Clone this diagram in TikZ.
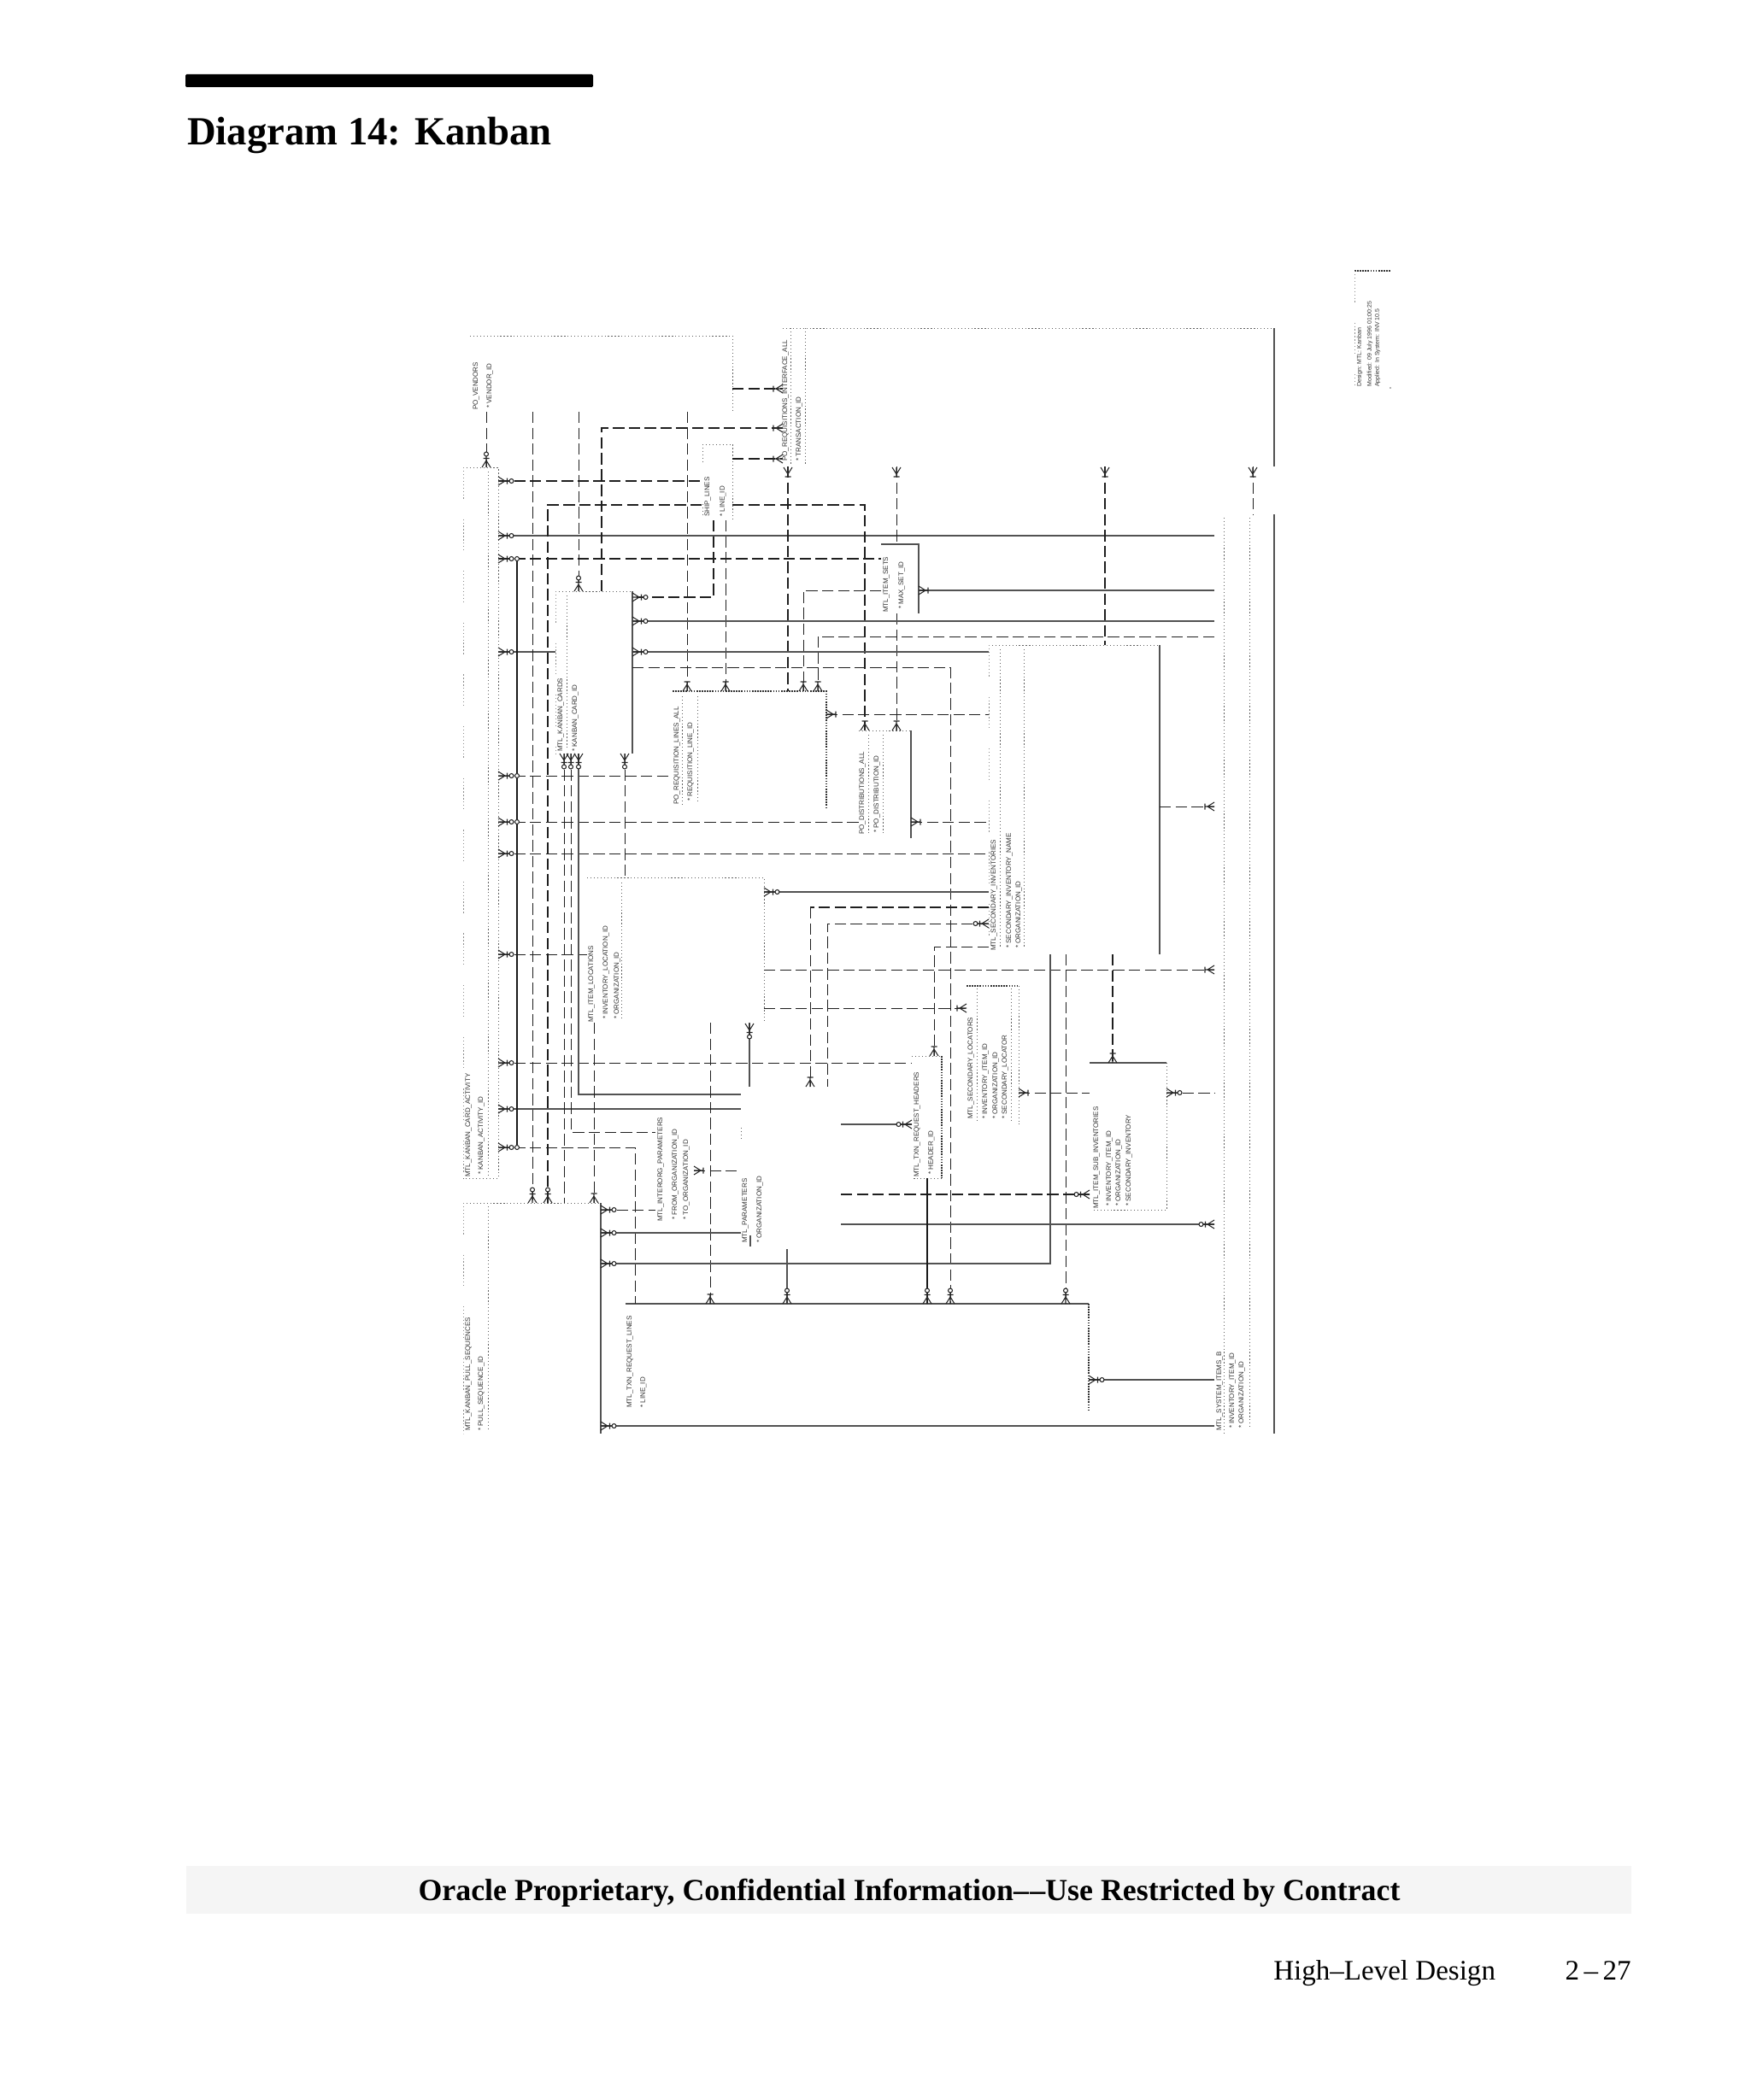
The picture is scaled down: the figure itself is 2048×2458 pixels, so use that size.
\documentclass[tikz,border=0pt]{standalone}
\usepackage{fontspec}
\setmainfont{Liberation Serif}
\newfontfamily\erdfont{Liberation Sans}
\usetikzlibrary{fit}

\newcommand{\mkentity}[5]{\node[inner sep=0,outer sep=0,fit={(#2,#3) (#4,#5)}] (#1) {};}

\tikzset{
  solidln/.style={line width=.8pt, black!68},
  thickln/.style={line width=1.45pt, black!90},
  dashln/.style={line width=.72pt, black!88, dash pattern=on 9.5pt off 3.7pt},
  thickdash/.style={line width=1.3pt, black!88, dash pattern=on 9.5pt off 3.7pt},
  dotln/.style={line width=.7pt, black!62, dash pattern=on .9pt off 1.9pt},
  heavydot/.style={line width=1pt, black!80, dash pattern=on 1.2pt off 1pt},
  sparseln/.style={line width=.7pt, black!45, dash pattern=on .9pt off 1.9pt on .9pt off 1.9pt on .9pt off 1.9pt on .9pt off 1.9pt on .9pt off 1.9pt on .9pt off 1.9pt on .9pt off 1.9pt on .9pt off 1.9pt on .9pt off 1.9pt on .9pt off 17pt},
  markln/.style={line width=.75pt, black!85},
  lbl/.style={rotate=90, anchor=west, inner sep=0, black!80, font=\erdfont\fontsize{5.7}{6}\selectfont},
  crowbar/.pic={\draw[markln] (0,-5) -- (8,0) (0,5) -- (8,0) (0,0) -- (11,0) (11,-3.5) -- (11,3.5);},
  crowo/.pic={\draw[markln] (0,-5) -- (8,0) (0,5) -- (8,0) (0,0) -- (13,0) (10.5,-3.5) -- (10.5,3.5);
              \draw[markln,fill=white] (15.5,0) circle (2.5);}
}

\begin{document}
\begin{tikzpicture}[x=.025cm,y=-.025cm]
  \useasboundingbox (0,0) rectangle (2048,2458);

  % Cabecera
  \fill[black,rounded corners=1pt] (217,87) rectangle (694,102);
  \node[anchor=base west,inner sep=0,font=\fontsize{33.2}{35}\selectfont\bfseries] (title) at (219,170) {Diagram 14: Kanban};

  % Pie
  \fill[black!4] (218,2184) rectangle (1909,2240);
  \node[anchor=base,inner sep=0,font=\fontsize{25.5}{27}\selectfont\bfseries] (banner) at (1064,2224) {Oracle Proprietary, Confidential Information–\kern1pt–Use Restricted by Contract};
  \node[anchor=base west,inner sep=0,font=\fontsize{23.5}{26}\selectfont] (section) at (1490,2317) {High–Level Design};
  \node[anchor=base east,inner sep=0,font=\fontsize{23.5}{26}\selectfont] (pageno) at (1909,2317) {2\,–\,27};

  % Entidades
  \mkentity{vendor}{550}{393}{857}{482}
  \mkentity{reqif}{916}{384}{1491}{546}
  \mkentity{ship}{822}{520}{857}{609}
  \mkentity{activity}{542}{547}{583}{1379}
  \mkentity{cards}{650}{692}{740}{882}
  \mkentity{reqline}{787}{809}{967}{945}
  \mkentity{dist}{1005}{855}{1066}{981}
  \mkentity{catset}{1031}{637}{1075}{718}
  \mkentity{locs}{687}{1027}{894}{1197}
  \mkentity{secinv}{1157}{755}{1357}{1117}
  \mkentity{secloc}{1131}{1154}{1192}{1316}
  \mkentity{itemsub}{1275}{1244}{1365}{1416}
  \mkentity{interorg}{767}{1313}{812}{1430}
  \mkentity{params}{867}{1272}{984}{1462}
  \mkentity{txnhdr}{1067}{1236}{1102}{1379}
  \mkentity{txnline}{732}{1526}{1274}{1651}
  \mkentity{pullseq}{542}{1408}{703}{1678}
  \mkentity{items}{1421}{602}{1491}{1678}
  \coordinate (busT) at (605,654);
  \coordinate (busB) at (605,1343);

  % Bordes
  \draw[dotln] (vendor.north west) -- (vendor.north east) -- (vendor.south east);
  \draw[dotln] (reqif.north west) -- (reqif.north east);
  \draw[solidln] (reqif.north east) -- (reqif.south east);
  \draw[dotln] (925,384) -- (925,543) (942,384) -- (942,543);
  \draw[dotln] (ship.north west) -- (ship.north east) -- (ship.south east);
  \draw[dotln] (822,520) -- (822,543) (822,590) -- (822,605);
  \draw[dotln] (activity.north west) -- (activity.north east) -- (activity.south east) -- (activity.south west);
  \draw[sparseln] (activity.north west) -- (activity.south west);
  \draw[dotln] (571,552) -- (571,1375);
  \draw[dotln] (cards.north west) -- (cards.north east);
  \draw[solidln] (cards.north east) -- (cards.south east);
  \draw[sparseln] (cards.north west) -- (cards.south west);
  \draw[dotln] (663,697) -- (663,877);
  \draw[heavydot] (reqline.north west) -- (reqline.north east) -- (reqline.south east);
  \draw[dotln] (798,815) -- (798,942) (816,815) -- (816,938);
  \draw[dotln] (dist.north west) -- (dist.north east);
  \draw[solidln] (dist.north east) -- (dist.south east);
  \draw[dotln] (1016,860) -- (1016,975) (1033,860) -- (1033,975);
  \draw[solidln] (catset.north west) -- (catset.north east) -- (catset.south east);
  \draw[dotln] (locs.north west) -- (locs.north east) -- (locs.south east);
  \draw[dotln] (727,1033) -- (727,1193);
  \draw[dotln] (secinv.north west) -- (secinv.north east);
  \draw[solidln] (secinv.north east) -- (secinv.south east);
  \draw[sparseln] (secinv.north west) -- (secinv.south west);
  \draw[dotln] (1170,760) -- (1170,1110) (1198,760) -- (1198,1110);
  \draw[heavydot] (secloc.north west) -- (secloc.north east);
  \draw[dotln] (secloc.north east) -- (secloc.south east);
  \draw[dotln] (1143,1157) -- (1143,1311) (1183,1157) -- (1183,1311);
  \draw[solidln] (itemsub.north west) -- (itemsub.north east);
  \draw[dotln] (itemsub.north east) -- (itemsub.south east) -- (1278,1416);
  \draw[dotln] (txnhdr.north west) -- (txnhdr.north east);
  \draw[heavydot] (txnhdr.north east) -- (txnhdr.south east);
  \draw[dotln] (txnhdr.south east) -- (txnhdr.south west);
  \draw[solidln] (txnline.north west) -- (txnline.north east);
  \draw[heavydot] (txnline.north east) -- (txnline.south east);
  \draw[dotln] (pullseq.north west) -- (pullseq.north east);
  \draw[solidln] (pullseq.north east) -- (pullseq.south east);
  \draw[sparseln] (pullseq.north west) -- (pullseq.south west);
  \draw[dotln] (571,1412) -- (571,1673);
  \draw[solidln] (items.north east) -- (items.south east);
  \draw[dotln] (1432,606) -- (1432,1678) (1462,606) -- (1462,1673);
  \draw[dotln] (867,1320) -- (867,1333);
  \draw[solidln] (878,1446) -- (878,1459);

  % Bloque de titulo
  \draw[heavydot] (1585,317) -- (1627,317);
  \draw[sparseln] (1585,317) -- (1585,452);
  \fill[black!60] (1627,454) circle (.8);

  % Conectores desde la actividad
  \draw[dashln] (activity.east |- 0,563) -- (ship.west |- 0,563);
  \draw[solidln] (activity.east |- 0,627) -- (items.west |- 0,627);
  \draw[dashln] (activity.east |- 0,654) -- (catset.west |- 0,654);
  \draw[solidln] (activity.east |- 0,763) -- (cards.west |- 0,763);
  \draw[dashln] (activity.east |- 0,908) -- (reqline.west |- 0,908);
  \draw[dashln] (activity.east |- 0,962) -- (dist.west |- 0,962);
  \draw[dashln] (activity.east |- 0,999) -- (secinv.west |- 0,999);
  \draw[dashln] (activity.east |- 0,1117) -- (locs.west |- 0,1117);
  \draw[dashln] (activity.east |- 0,1244) -- (txnhdr.west |- 0,1244);
  \draw[solidln] (activity.east |- 0,1298) -- (params.west |- 0,1298);
  \draw[dashln] (activity.east |- 0,1343) -- (743,1343) -- (txnline.north -| 743,0);
  \draw[thickln] (busT) -- (busB);

  % Verticales superiores
  \draw[dashln] (vendor.south -| 569,0) -- (activity.north -| 569,0);
  \draw[dashln] (vendor.south -| 623,0) -- (pullseq.north -| 623,0);
  \draw[dashln] (vendor.south -| 677,0) -- (cards.north -| 677,0);
  \draw[dashln] (vendor.south -| 804,0) -- (reqline.north -| 804,0);
  \draw[dashln] (vendor.east |- 0,455) -- (reqif.west |- 0,455);
  \draw[dashln] (ship.east |- 0,537) -- (reqif.west |- 0,537);
  \draw[dashln] (ship.south -| 849,0) -- (reqline.north -| 849,0);
  \draw[thickdash] (ship.south -| 835,0) -- (835,699) -- (cards.east |- 0,699);
  \draw[thickdash] (cards.north -| 704,0) -- (704,501) -- (reqif.west |- 0,501);
  \draw[thickdash] (pullseq.north -| 641,0) -- (641,591) -- (ship.west |- 0,591);
  \draw[thickdash] (ship.east |- 0,591) -- (1012,591) -- (dist.north -| 1012,0);
  \draw[thickdash] (reqif.south -| 922,0) -- (reqline.north -| 922,0);
  \draw[dashln] (reqif.south -| 1049,0) -- (catset.north -| 1049,0);
  \draw[dashln] (catset.south -| 1049,0) -- (dist.north -| 1049,0);
  \draw[thickdash] (reqif.south -| 1293,0) -- (secinv.north -| 1293,0);
  \draw[dashln] (reqif.south -| 1466,0) -- (items.north -| 1466,0);

  % Tarjetas
  \draw[solidln] (cards.east |- 0,727) -- (items.west |- 0,727);
  \draw[solidln] (cards.east |- 0,763) -- (secinv.west |- 0,763);
  \draw[dashln] (cards.east |- 0,781) -- (1112,781) -- (txnline.north -| 1112,0);
  \draw[dashln] (cards.south -| 660,0) -- (pullseq.north -| 660,0);
  \draw[dashln] (cards.south -| 668,0) -- (668,1325) -- (interorg.west |- 0,1325);
  \draw[solidln] (cards.south -| 677,0) -- (677,1281) -- (params.west |- 0,1281);
  \draw[dashln] (cards.south -| 731,0) -- (locs.north -| 731,0);

  % Requisiciones y distribuciones
  \draw[dashln] (catset.west |- 0,691) -- (940,691) -- (reqline.north -| 940,0);
  \draw[dashln] (items.west |- 0,745) -- (957,745) -- (reqline.north -| 957,0);
  \draw[solidln] (catset.east |- 0,691) -- (items.west |- 0,691);
  \draw[dashln] (reqline.east |- 0,836) -- (secinv.west |- 0,836);
  \draw[dashln] (dist.east |- 0,962) -- (secinv.west |- 0,962);

  % Ubicaciones
  \draw[solidln] (locs.east |- 0,1044) -- (secinv.west |- 0,1044);
  \draw[dashln] (locs.east |- 0,1135) -- (items.west |- 0,1135);
  \draw[dashln] (locs.east |- 0,1180) -- (secloc.west |- 0,1180);
  \draw[dashln] (locs.south -| 695,0) -- (pullseq.north -| 695,0);
  \draw[dashln] (locs.south -| 831,0) -- (txnline.north -| 831,0);
  \draw[solidln] (locs.south -| 877,0) -- (params.north -| 877,0);

  % Subinventarios
  \draw[dashln] (secinv.west |- 0,1108) -- (1093,1108) -- (txnhdr.north -| 1093,0);
  \draw[thickdash] (secinv.west |- 0,1062) -- (948,1062);
  \draw[dashln] (948,1062) -- (params.north -| 948,0);
  \draw[dashln] (secinv.west |- 0,1081) -- (968,1081) -- (params.north -| 968,0);
  \draw[dashln] (secinv.east |- 0,944) -- (items.west |- 0,944);
  \draw[thickdash] (secinv.south -| 1302,0) -- (itemsub.north -| 1302,0);
  \draw[solidln] (secinv.south -| 1229,0) -- (1229,1479) -- (pullseq.east |- 0,1479);
  \draw[dashln] (secinv.south -| 1247,0) -- (txnline.north -| 1247,0);
  \draw[dashln] (secloc.east |- 0,1279) -- (itemsub.west |- 0,1279);
  \draw[dashln] (itemsub.east |- 0,1279) -- (items.west |- 0,1279);

  % Parametros y pedidos
  \draw[solidln] (params.east |- 0,1316) -- (txnhdr.west |- 0,1316);
  \draw[thickdash] (params.east |- 0,1398) -- (itemsub.west |- 0,1398);
  \draw[solidln] (params.east |- 0,1433) -- (items.west |- 0,1433);
  \draw[solidln] (params.south -| 921,0) -- (txnline.north -| 921,0);
  \draw[dashln] (interorg.east |- 0,1370) -- (params.west |- 0,1370);
  \draw[dashln] (pullseq.east |- 0,1416) -- (interorg.west |- 0,1416);
  \draw[solidln] (pullseq.east |- 0,1443) -- (params.west |- 0,1443);
  \draw[solidln] (pullseq.east |- 0,1669) -- (items.west |- 0,1669);
  \draw[thickln] (txnhdr.south -| 1085,0) -- (txnline.north -| 1085,0);
  \draw[solidln] (txnline.east |- 0,1615) -- (items.west |- 0,1615);

  % Marcas
  \foreach \ny in {563,627,654,763,908,962,999,1117,1244,1298,1343}
    \pic at (activity.east |- 0,\ny) {crowo};
  \foreach \ny in {654,908,962,1343}
    \draw[markln,fill=white] (605,\ny) circle (2.5);
  \foreach \ny in {699,727,763}
    \pic at (cards.east |- 0,\ny) {crowo};
  \foreach \ny in {1416,1443,1479,1669}
    \pic at (pullseq.east |- 0,\ny) {crowo};
  \foreach \nx in {660,668,677,731}
    \pic[rotate=270] at (\nx,882) {crowo};
  \foreach \nx in {804,849,940,957}
    \pic[rotate=90] at (reqline.north -| \nx,0) {crowbar};
  \foreach \nx in {1012,1049}
    \pic[rotate=90] at (dist.north -| \nx,0) {crowbar};
  \foreach \nx in {922,1049,1293,1466}
    \pic[rotate=270] at (\nx,547) {crowbar};
  \foreach \ny in {455,501,537}
    \pic[rotate=180] at (reqif.west |- 0,\ny) {crowbar};
  \foreach \nx in {921,1085,1112,1247}
    \pic[rotate=90] at (txnline.north -| \nx,0) {crowo};
  \foreach \nx in {623,641}
    \pic[rotate=90] at (pullseq.north -| \nx,0) {crowo};
  \pic[rotate=90] at (activity.north -| 569,0) {crowo};
  \pic[rotate=90] at (cards.north -| 677,0) {crowo};
  \pic[rotate=90] at (pullseq.north -| 695,0) {crowbar};
  \pic[rotate=90] at (txnline.north -| 831,0) {crowbar};
  \pic at (reqline.east |- 0,836) {crowbar};
  \pic at (dist.east |- 0,962) {crowbar};
  \pic at (catset.east |- 0,691) {crowbar};
  \pic[rotate=180] at (items.west |- 0,944) {crowbar};
  \pic[rotate=180] at (items.west |- 0,1135) {crowbar};
  \pic[rotate=180] at (secloc.west |- 0,1180) {crowbar};
  \pic[rotate=180] at (secinv.west |- 0,1081) {crowo};
  \pic at (locs.east |- 0,1044) {crowo};
  \pic[rotate=270] at (877,1198) {crowo};
  \pic[rotate=90] at (params.north -| 948,0) {crowbar};
  \pic[rotate=90] at (txnhdr.north -| 1093,0) {crowbar};
  \pic[rotate=90] at (itemsub.north -| 1302,0) {crowbar};
  \pic at (interorg.east |- 0,1370) {crowbar};
  \pic[rotate=180] at (txnhdr.west |- 0,1316) {crowo};
  \pic[rotate=180] at (itemsub.west |- 0,1398) {crowo};
  \pic[rotate=180] at (items.west |- 0,1433) {crowo};
  \pic at (secloc.east |- 0,1279) {crowbar};
  \pic at (itemsub.east |- 0,1279) {crowo};
  \pic at (txnline.east |- 0,1615) {crowo};

  % Textos de las entidades
  \node[lbl] (vendorA) at (557,480) {PO\_VENDORS};
  \node[lbl] (vendorB) at (573,478) {* VENDOR\_ID};
  \node[lbl] (reqifA) at (919,540) {PO\_REQUISITIONS\_INTERFACE\_ALL};
  \node[lbl] (reqifB) at (935,540) {* TRANSACTION\_ID};
  \node[lbl] (shipA) at (828,605) {SHIP\_LINES};
  \node[lbl] (shipB) at (846,605) {* LINE\_ID};
  \node[lbl] (activityA) at (548,1378) {MTL\_KANBAN\_CARD\_ACTIVITY};
  \node[lbl] (activityB) at (563,1375) {* KANBAN\_ACTIVITY\_ID};
  \node[lbl] (cardsA) at (656,880) {MTL\_KANBAN\_CARDS};
  \node[lbl] (cardsB) at (673,880) {* KANBAN\_CARD\_ID};
  \node[lbl] (reqlineA) at (792,942) {PO\_REQUISITION\_LINES\_ALL};
  \node[lbl] (reqlineB) at (808,938) {* REQUISITION\_LINE\_ID};
  \node[lbl] (distA) at (1009,977) {PO\_DISTRIBUTIONS\_ALL};
  \node[lbl] (distB) at (1026,975) {* PO\_DISTRIBUTION\_ID};
  \node[lbl] (catsetA) at (1037,717) {MTL\_ITEM\_SETS};
  \node[lbl] (catsetB) at (1055,713) {* MAX\_SET\_ID};
  \node[lbl] (locsA) at (692,1197) {MTL\_ITEM\_LOCATIONS};
  \node[lbl] (locsB) at (709,1193) {* INVENTORY\_LOCATION\_ID};
  \node[lbl] (locsC) at (722,1193) {* ORGANIZATION\_ID};
  \node[lbl] (secinvA) at (1163,1113) {MTL\_SECONDARY\_INVENTORIES};
  \node[lbl] (secinvB) at (1181,1110) {* SECONDARY\_INVENTORY\_NAME};
  \node[lbl] (secinvC) at (1192,1110) {* ORGANIZATION\_ID};
  \node[lbl] (seclocA) at (1136,1310) {MTL\_SECONDARY\_LOCATORS};
  \node[lbl] (seclocB) at (1153,1310) {* INVENTORY\_ITEM\_ID};
  \node[lbl] (seclocC) at (1165,1310) {* ORGANIZATION\_ID};
  \node[lbl] (seclocD) at (1176,1310) {* SECONDARY\_LOCATOR};
  \node[lbl] (itemsubA) at (1283,1415) {MTL\_ITEM\_SUB\_INVENTORIES};
  \node[lbl] (itemsubB) at (1298,1412) {* INVENTORY\_ITEM\_ID};
  \node[lbl] (itemsubC) at (1309,1412) {* ORGANIZATION\_ID};
  \node[lbl] (itemsubD) at (1321,1412) {* SECONDARY\_INVENTORY};
  \node[lbl] (interorgA) at (773,1430) {MTL\_INTERORG\_PARAMETERS};
  \node[lbl] (interorgB) at (790,1428) {* FROM\_ORGANIZATION\_ID};
  \node[lbl] (interorgC) at (803,1428) {* TO\_ORGANIZATION\_ID};
  \node[lbl] (paramsA) at (872,1455) {MTL\_PARAMETERS};
  \node[lbl] (paramsB) at (889,1455) {* ORGANIZATION\_ID};
  \node[lbl] (txnhdrA) at (1073,1378) {MTL\_TXN\_REQUEST\_HEADERS};
  \node[lbl] (txnhdrB) at (1090,1375) {* HEADER\_ID};
  \node[lbl] (txnlineA) at (737,1648) {MTL\_TXN\_REQUEST\_LINES};
  \node[lbl] (txnlineB) at (753,1648) {* LINE\_ID};
  \node[lbl] (pullseqA) at (548,1675) {MTL\_KANBAN\_PULL\_SEQUENCES};
  \node[lbl] (pullseqB) at (563,1675) {* PULL\_SEQUENCE\_ID};
  \node[lbl] (itemsA) at (1427,1675) {MTL\_SYSTEM\_ITEMS\_B};
  \node[lbl] (itemsB) at (1442,1672) {* INVENTORY\_ITEM\_ID};
  \node[lbl] (itemsC) at (1453,1672) {* ORGANIZATION\_ID};

  % Texto del bloque de titulo
  \node[lbl,font=\erdfont\fontsize{5}{6}\selectfont] (titleA) at (1591,453) {Design: MTL: Kanban};
  \node[lbl,font=\erdfont\fontsize{5}{6}\selectfont] (titleB) at (1603,453) {Modified: 09 July 1996 01:00:25};
  \node[lbl,font=\erdfont\fontsize{5}{6}\selectfont] (titleC) at (1612,453) {Applied: In System: INV 10.5};
\end{tikzpicture}
\end{document}
